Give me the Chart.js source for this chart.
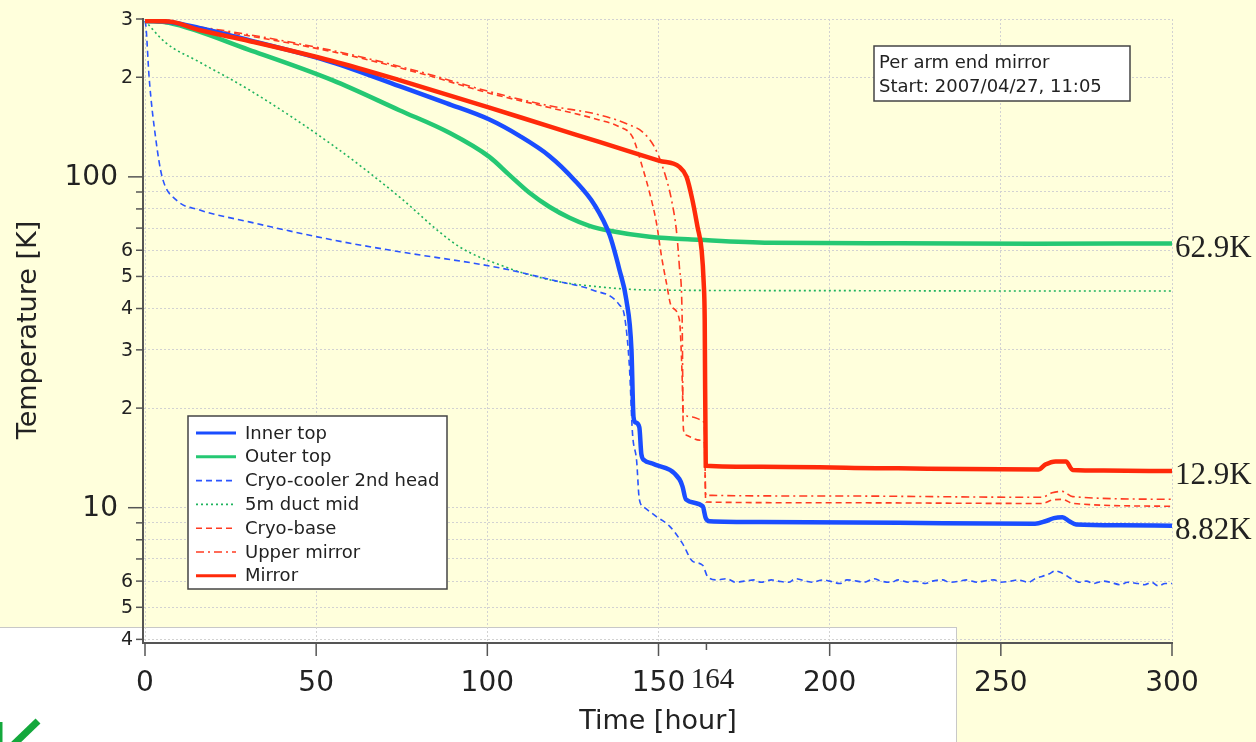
<!DOCTYPE html>
<html>
<head>
<meta charset="utf-8">
<title>Per arm end mirror cooldown</title>
<script src="https://cdn.jsdelivr.net/npm/chart.js@4.4.1/dist/chart.umd.min.js"></script>
<style>
  html, body { margin: 0; padding: 0; background: #ffffdc; }
  #wrap { position: relative; width: 1256px; height: 742px; overflow: hidden; }
  #paper { position: absolute; left: 0; top: 627px; width: 956px; height: 115px; background: #fff;
           border-top: 1px solid #c8c8c8; border-right: 1px solid #c8c8c8; }
  #tempChart { position: absolute; left: 0; top: 0; }
</style>
</head>
<body>
<div id="wrap">
  <div id="paper"></div>
  <canvas id="tempChart" width="1256" height="742"></canvas>
</div>
<script>
// time [hour] / temperature [K]
const innerT = [0, 7, 15.8, 30.4, 54.7, 74.3, 88, 100.6, 109.4, 118.1, 125.4, 131.3, 135.7, 138.6, 140.6, 142.1, 142.7, 143.3, 144.4, 145, 145.9, 148.2, 156.1, 157, 158, 162.9, 163.8, 164.9, 180, 220, 260, 263, 265.5, 268, 270, 272, 285, 300];
const innerV = [296, 294, 282, 259, 222, 188, 167, 149, 133, 115.7, 97.9, 82.3, 66.8, 52.3, 42.5, 30, 18.8, 18.1, 17.5, 14.5, 13.9, 13.6, 12.2, 11.6, 10.6, 10.1, 9.3, 9.1, 9.05, 9.0, 8.95, 9.1, 9.3, 9.35, 9.1, 8.9, 8.85, 8.82];

const outerT = [0, 7, 30.4, 54.7, 74.3, 88.9, 100.6, 106.4, 112.3, 118.1, 124, 129.8, 135.7, 147.4, 162, 182.5, 220, 260, 300];
const outerV = [296, 292, 242, 196, 159, 135.9, 114.9, 101.4, 89.5, 81.2, 75.2, 71.1, 68.7, 65.9, 64.5, 63.2, 63.0, 62.8, 62.9];

const coolerT = [0, 0.3, 1.2, 3.2, 5, 9.1, 15.8, 30.4, 54.7, 74.3, 103.5, 121, 130.7, 138.6, 140.1, 141.5, 142.4, 143.6, 144.4, 145.9, 149.4, 153.2, 157, 159.9, 162.9, 164.3,
  167, 170, 172.5, 175, 178, 180, 183, 185, 188, 190, 193, 195, 198, 200, 203, 205, 208, 210, 213, 215, 218, 220, 223, 225, 228, 230, 233, 235, 238, 240, 243, 245, 248, 250,
  253, 255, 258, 260, 262, 264, 266, 267, 269, 270, 272, 273, 275, 277, 280, 282, 285, 287, 290, 292, 294, 296, 298, 300];
const coolerV = [296, 283, 200, 129, 100, 85.2, 79.5, 73.1, 64.5, 59.4, 53.1, 48.2, 45.5, 41, 37.8, 26.7, 16.8, 13.9, 10.6, 10.0, 9.4, 8.8, 7.8, 6.9, 6.7, 6.2,
  6.05, 6.1, 5.95, 6.0, 6.05, 5.95, 6.05, 6.0, 5.95, 6.1, 6.0, 5.95, 6.05, 6.0, 5.9, 6.05, 6.0, 5.95, 6.1, 6.0, 5.95, 6.05, 5.95, 6.0, 5.9, 6.0, 6.05, 5.95, 6.0, 6.05, 5.95, 6.0, 6.05, 5.95,
  6.0, 6.05, 5.95, 6.1, 6.2, 6.3, 6.45, 6.4, 6.25, 6.15, 6.0, 5.95, 6.0, 5.9, 6.0, 5.95, 5.85, 5.95, 5.9, 5.85, 5.95, 5.8, 5.9, 5.9];

const ductT = [0, 6.1, 15.8, 30.4, 54.7, 74.3, 86, 91.8, 97.7, 103.5, 109.4, 121, 132.7, 147.4, 200, 250, 300];
const ductV = [296, 254, 222.6, 183.3, 124.9, 87, 68.2, 61.5, 57.2, 54.3, 51.6, 48.2, 46.5, 45.5, 45.3, 45.2, 45.2];

const baseT = [0, 15.8, 54.7, 80.1, 100.6, 118.1, 132.7, 138.6, 142.4, 145.3, 147.4, 149.4, 150.9, 152.3, 153.8, 156.1, 156.9, 157.3, 158, 162, 163.4, 163.8, 200, 262, 265, 268, 271, 300];
const baseV = [296, 282, 239, 206, 179, 162, 148.6, 141.6, 132, 107, 89.5, 72.6, 57.3, 47.9, 40.5, 37, 25, 17.2, 16.6, 16.0, 15.7, 10.4, 10.35, 10.3, 10.55, 10.6, 10.3, 10.1];

const upperT = [0, 15.8, 54.7, 80.1, 100.6, 118.1, 132.7, 141.5, 145.3, 148.8, 151.2, 153.8, 155.3, 156.1, 156.9, 157.2, 159.9, 162.6, 163.4, 163.8, 200, 262, 265, 268, 271, 300];
const upperV = [296, 284, 241, 208, 181, 164, 154, 143.6, 136.8, 123.2, 107.2, 85.2, 67.8, 53.5, 37.8, 19.4, 18.8, 18.4, 17.8, 10.9, 10.85, 10.75, 11.1, 11.2, 10.8, 10.6];

const mirrorT = [0, 7, 15.8, 30.4, 54.7, 74.3, 100.6, 118.1, 132.7, 150.3, 156.1, 158.2, 159.9, 161.4, 162.6, 163.2, 163.5, 163.8, 180, 220, 261, 263, 266, 269, 271, 280, 300];
const mirrorV = [296, 295, 278, 257.5, 224, 196, 162, 142, 127.6, 111.8, 107.2, 100, 85.2, 70.6, 60, 47.9, 37, 13.4, 13.3, 13.15, 13.05, 13.5, 13.8, 13.8, 13.0, 12.95, 12.9];

const xTickVals = [0, 50, 100, 150, 200, 250, 300];
const xMarkVal = 164;
const yTickVals = [4, 5, 6, 7, 8, 9, 10, 20, 30, 40, 50, 60, 70, 80, 90, 100, 200, 300];
const yTickLabels = ['4', '5', '6', '', '', '', '10', '2', '3', '4', '5', '6', '', '', '', '100', '2', '3'];
const endVals = [62.9, 12.9, 8.82];
const endLabels = ['62.9K', '12.9K', '8.82K'];
const noteLines = ['Per arm end mirror', 'Start: 2007/04/27, 11:05'];

function series(label, t, v, color, width, dash, order) {
  return {
    label: label,
    data: t.map((x, i) => ({ x: x, y: v[i] })),
    borderColor: color, backgroundColor: color,
    borderWidth: width, borderDash: dash,
    pointRadius: 0, fill: false, order: order,
    cubicInterpolationMode: 'monotone'
  };
}

const datasets = [
  series('Inner top', innerT, innerV, '#1a4dff', 4.5, [], 1),
  series('Outer top', outerT, outerV, '#25c873', 4.5, [], 2),
  series('Cryo-cooler 2nd head', coolerT, coolerV, '#2b55ff', 1.6, [6, 4], 5),
  series('5m duct mid', ductT, ductV, '#1fb35e', 1.6, [2, 3], 6),
  series('Cryo-base', baseT, baseV, '#ff3b22', 1.6, [6, 4], 4),
  series('Upper mirror', upperT, upperV, '#ff3b22', 1.6, [8, 4, 2, 4], 3),
  series('Mirror', mirrorT, mirrorV, '#ff2a0a', 4.5, [], 0)
];

function seg(ctx, x1, y1, x2, y2) {
  ctx.beginPath(); ctx.moveTo(x1, y1); ctx.lineTo(x2, y2); ctx.stroke();
}

const decor = {
  id: 'decor',
  afterDatasetsDraw(chart) {
    const { ctx, chartArea: a, scales: { x, y } } = chart;
    ctx.save();
    ctx.strokeStyle = '#555';
    ctx.lineWidth = 1.5;
    ctx.fillStyle = '#222';

    // y ticks + labels
    ctx.textAlign = 'right';
    ctx.textBaseline = 'middle';
    yTickVals.forEach((v, i) => {
      const py = y.getPixelForValue(v);
      const lab = yTickLabels[i];
      const big = lab.length > 1;
      seg(ctx, a.left - (big ? 15 : 7), py, a.left, py);
      if (lab) {
        ctx.font = big ? '28px "DejaVu Sans"' : '19px "DejaVu Sans"';
        ctx.fillText(lab, a.left - (big ? 25 : 10), py + 1);
      }
    });

    // x ticks + labels
    ctx.textAlign = 'center';
    ctx.font = '28px "DejaVu Sans"';
    xTickVals.forEach(v => {
      const px = x.getPixelForValue(v);
      seg(ctx, px, a.bottom, px, a.bottom + 13);
      ctx.fillText(String(v), px, a.bottom + 41);
    });
    const pm = x.getPixelForValue(xMarkVal);
    seg(ctx, pm, a.bottom, pm, a.bottom + 7);
    ctx.font = '29px "Liberation Serif"';
    ctx.fillText(String(xMarkVal), pm + 6, a.bottom + 37);

    // axis titles
    ctx.font = '27px "DejaVu Sans"';
    ctx.fillText('Time [hour]', 658, 722);
    ctx.save();
    ctx.translate(29, 330);
    ctx.rotate(-Math.PI / 2);
    ctx.fillText('Temperature [K]', 0, 0);
    ctx.restore();

    // end values
    ctx.textAlign = 'left';
    ctx.font = '31px "Liberation Serif"';
    endVals.forEach((v, i) => {
      ctx.fillText(endLabels[i], a.right + 3, y.getPixelForValue(v) + 5);
    });

    // note box
    ctx.fillStyle = '#fff';
    ctx.fillRect(874, 46, 256, 55);
    ctx.strokeStyle = '#444';
    ctx.lineWidth = 1.5;
    ctx.strokeRect(874, 46, 256, 55);
    ctx.fillStyle = '#222';
    ctx.font = '18px "DejaVu Sans"';
    noteLines.forEach((s, i) => ctx.fillText(s, 879, 63 + i * 24));

    // legend
    ctx.fillStyle = '#fff';
    ctx.fillRect(188, 416, 259, 173);
    ctx.strokeRect(188, 416, 259, 173);
    ctx.font = '18px "DejaVu Sans"';
    chart.data.datasets.forEach((ds, i) => {
      const cy = 433 + i * 23.8;
      ctx.strokeStyle = ds.borderColor;
      ctx.lineWidth = Math.min(ds.borderWidth, 3);
      ctx.setLineDash(ds.borderDash);
      seg(ctx, 196, cy, 236, cy);
      ctx.setLineDash([]);
      ctx.fillStyle = '#222';
      ctx.fillText(ds.label, 245, cy + 1);
    });

    // corner logo
    ctx.strokeStyle = '#14a83c';
    ctx.lineWidth = 7;
    seg(ctx, 12, 746, 38, 721);
    ctx.lineWidth = 3;
    seg(ctx, 1, 722, 1, 742);
    ctx.restore();
  }
};

new Chart(document.getElementById('tempChart'), {
  type: 'line',
  data: { datasets: datasets },
  options: {
    responsive: false,
    animation: false,
    layout: { padding: { top: 19, right: 84, left: 0, bottom: 0 } },
    plugins: { legend: { display: false }, tooltip: { enabled: false } },
    scales: {
      x: {
        type: 'linear', min: -0.585, max: 300,
        afterBuildTicks: s => { s.ticks = xTickVals.map(v => ({ value: v })); },
        afterFit: s => { s.height = 99; },
        ticks: { display: false },
        grid: { color: '#d2d2d2', lineWidth: 1, drawTicks: false },
        border: { display: true, color: '#555', width: 2, dash: [2, 2] }
      },
      y: {
        type: 'logarithmic', min: 3.9, max: 300,
        afterBuildTicks: s => { s.ticks = yTickVals.map(v => ({ value: v })); },
        afterFit: s => { s.width = 143; },
        ticks: { display: false },
        grid: { color: '#d2d2d2', lineWidth: 1, drawTicks: false },
        border: { display: true, color: '#555', width: 2, dash: [2, 2] }
      }
    }
  },
  plugins: [decor]
});
</script>
</body>
</html>
